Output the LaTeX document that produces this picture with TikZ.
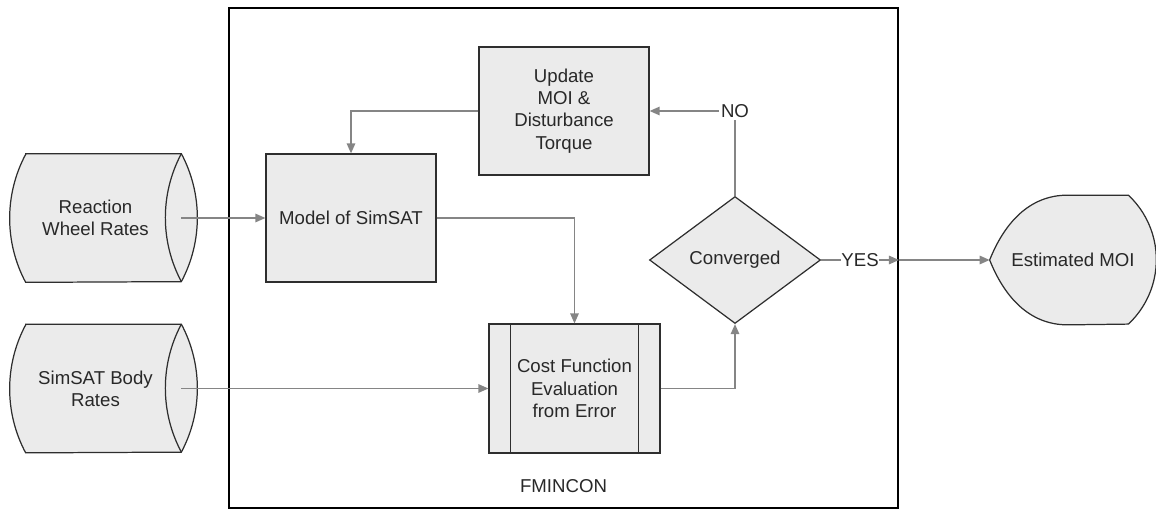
\documentclass[tikz,border=0pt]{standalone}
\usepackage{fontspec}
\setmainfont{Liberation Sans}
\usetikzlibrary{shapes.geometric,arrows.meta,backgrounds}
\definecolor{boxfill}{HTML}{EBEBEB}
\definecolor{linegray}{HTML}{858585}
\definecolor{edgegray}{HTML}{2E2E2E}
\definecolor{textgray}{HTML}{282828}

\begin{document}
\begin{tikzpicture}[
    font=\fontsize{10.6}{12.7}\selectfont, text=textgray,
    block/.style={draw=edgegray,fill=boxfill,line width=0.7pt,minimum width=3.4cm,minimum height=2.56cm,align=center,inner sep=0pt},
    hidden/.style={minimum width=#1,minimum height=2.56cm,align=center,inner sep=0pt},
    edge/.style={draw=edgegray,line width=0.7pt},
    flow/.style={draw=linegray,line width=0.8pt},
    arr/.style={-{Triangle[length=0.2cm,width=0.17cm]}}
  ]
   \useasboundingbox (0,0) rectangle (23.12,10.24);

   % FMINCON frame
   \node[draw=black,line width=1.1pt,minimum width=13.38cm,minimum height=10cm,inner sep=0pt] (fmin) at (11.27,5.08) {};
   \node (fmlabel) at (11.27,0.52) {FMINCON};

   \node[hidden=3.42cm] (rwr) at (1.91,5.88) {Reaction\\Wheel Rates};
   \node[hidden=3.42cm] (sbr) at (1.91,2.47) {SimSAT Body\\Rates};
   \node[block] (model) at (7.02,5.88) {Model of SimSAT};
   \node[block] (update) at (11.28,8.02) {Update\\MOI \&\\Disturbance\\Torque};
   \node[block,minimum width=3.42cm,minimum height=2.58cm] (cost) at (11.49,2.47) {Cost Function\\Evaluation\\from Error};
   \node[diamond,draw=edgegray,fill=boxfill,line width=0.7pt,minimum width=3.42cm,minimum height=2.54cm,inner sep=0pt] (conv) at (14.70,5.04) {Converged};
   \node[hidden=3.32cm,minimum height=2.58cm] (moi) at (21.46,5.04) {Estimated MOI};

   \draw[edge] ([xshift=.44cm]cost.north west) -- ([xshift=.44cm]cost.south west)
               ([xshift=-.44cm]cost.north east) -- ([xshift=-.44cm]cost.south east);

   \begin{scope}[on background layer]
     % stored data ends: arcs of radius 2.72cm
     \foreach \c in {rwr,sbr} {
       \draw[edge,fill=boxfill] ([xshift=.32cm]\c.north west) -- (\c.north east)
         arc[start angle=28.07,end angle=-28.07,radius=2.72cm]
         -- ([xshift=.32cm]\c.south west)
         arc[start angle=208.07,end angle=151.93,radius=2.72cm] -- cycle;
       \draw[edge] (\c.north east) arc[start angle=151.93,end angle=208.07,radius=2.72cm];
     }
     \draw[edge,fill=boxfill] (moi.west)
       .. controls ([xshift=.3cm,yshift=.75cm]moi.west) and ([xshift=.8cm]moi.north west) .. ([xshift=1.56cm]moi.north west)
       -- ([xshift=-.56cm]moi.north east)
       arc[start angle=46.9,end angle=-46.9,radius=1.766cm]
       -- ([xshift=1.56cm]moi.south west)
       .. controls ([xshift=.8cm]moi.south west) and ([xshift=.3cm,yshift=-.75cm]moi.west) .. (moi.west) -- cycle;
   \end{scope}

   \node[inner sep=1pt] (no) at (conv.north |- update.east) {NO};
   \node[inner sep=0pt,anchor=west] (yes) at ([xshift=.4cm]conv.east) {YES};

   \draw[flow,arr] (rwr.east) -- (model.west);
   \draw[flow,arr] (sbr.east) -- (cost.west);
   \draw[flow,arr] (update.west) -| (model.north);
   \draw[flow,arr] (model.east) -| (cost.north);
   \draw[flow,arr] (cost.east) -| (conv.south);
   \draw[flow] (conv.north) -- (no);
   \draw[flow,arr] (no) -- (update.east);
   \draw[flow] (conv.east) -- (yes.west);
   \draw[flow,arr] (yes.east) -- (yes.east -| fmin.east);
   \draw[flow,arr] (yes.east -| fmin.east) -- (moi.west);
\end{tikzpicture}
\end{document}
